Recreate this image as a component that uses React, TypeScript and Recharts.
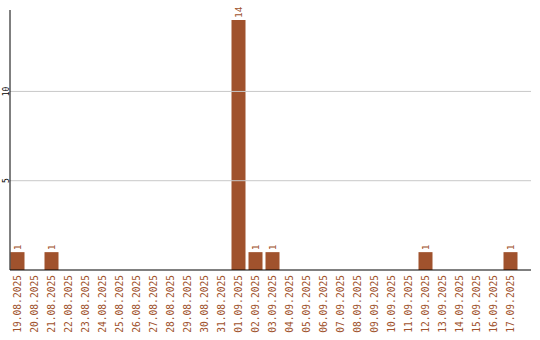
import React from "react";
import { BarChart, Bar, XAxis, YAxis, ReferenceLine, LabelList } from "recharts";

const days = [
  "19.08.2025", "20.08.2025", "21.08.2025", "22.08.2025", "23.08.2025",
  "24.08.2025", "25.08.2025", "26.08.2025", "27.08.2025", "28.08.2025",
  "29.08.2025", "30.08.2025", "31.08.2025", "01.09.2025", "02.09.2025",
  "03.09.2025", "04.09.2025", "05.09.2025", "06.09.2025", "07.09.2025",
  "08.09.2025", "09.09.2025", "10.09.2025", "11.09.2025", "12.09.2025",
  "13.09.2025", "14.09.2025", "15.09.2025", "16.09.2025", "17.09.2025",
];

const counts = [
  1, 0, 1, 0, 0, 0, 0, 0, 0, 0,
  0, 0, 0, 14, 1, 1, 0, 0, 0, 0,
  0, 0, 0, 0, 1, 0, 0, 0, 0, 1,
];

const yTicks = [5, 10];

const BROWN = "#a0522d";
const FONT = "'DejaVu Sans Mono', monospace";
// bars sit at the left of each slot rather than centered
const SHIFT = -1.5;

const data = days.map((day, i) => ({ day, count: counts[i] }));

// chart fills the page from the very corner
document.body.style.margin = "0";

function BarShape(props: any) {
  const { x, y, width, height } = props;
  if (!height || height <= 0) return null;
  return <rect x={x + SHIFT} y={y} width={width} height={height} fill={BROWN} />;
}

function ValueLabel(props: any) {
  const { x, y, width, value } = props;
  if (!value) return null;
  const cx = x + SHIFT + width / 2 + 3.5;
  const ty = y - 2;
  return (
    <text
      x={cx}
      y={ty}
      transform={`rotate(-90, ${cx}, ${ty})`}
      textAnchor="start"
      fill={BROWN}
      fontSize={9.5}
      fontFamily={FONT}
    >
      {value}
    </text>
  );
}

function DayTick(props: any) {
  const { x, y, payload } = props;
  const tx = x + SHIFT + 3.5;
  const ty = y + 5;
  return (
    <text
      x={tx}
      y={ty}
      transform={`rotate(-90, ${tx}, ${ty})`}
      textAnchor="end"
      fill={BROWN}
      fontSize={9.6}
      fontFamily={FONT}
    >
      {payload.value}
    </text>
  );
}

function CountTick(props: any) {
  const { y, payload } = props;
  const tx = 8.5;
  return (
    <g transform={`translate(${tx}, ${y}) rotate(-90)`}>
      <text x={0} y={0} textAnchor="middle" fill="#000" fontSize={8} fontFamily={FONT}>
        {String(payload.value)}
      </text>
    </g>
  );
}

export default function App() {
  return (
    <div style={{ width: 540, height: 340, background: "#fff" }}>
      <BarChart
        width={540}
        height={340}
        data={data}
        margin={{ top: 10, right: 9, left: 0, bottom: 0 }}
        barCategoryGap={0}
      >
        {yTicks.map((t) => (
          <ReferenceLine key={t} y={t} stroke="#c8c8c8" />
        ))}
        <XAxis
          dataKey="day"
          interval={0}
          height={70}
          padding={{ left: 0, right: 11 }}
          tickLine={false}
          tickSize={0}
          tickMargin={0}
          axisLine={{ stroke: "#000" }}
          tick={(p: any) => <DayTick {...p} />}
        />
        <YAxis
          width={10}
          domain={[0, 14.56]}
          ticks={yTicks}
          tickLine={false}
          axisLine={{ stroke: "#000" }}
          tick={(p: any) => <CountTick {...p} />}
        />
        <Bar dataKey="count" barSize={14} shape={<BarShape />} isAnimationActive={false}>
          <LabelList dataKey="count" content={<ValueLabel />} />
        </Bar>
      </BarChart>
    </div>
  );
}
